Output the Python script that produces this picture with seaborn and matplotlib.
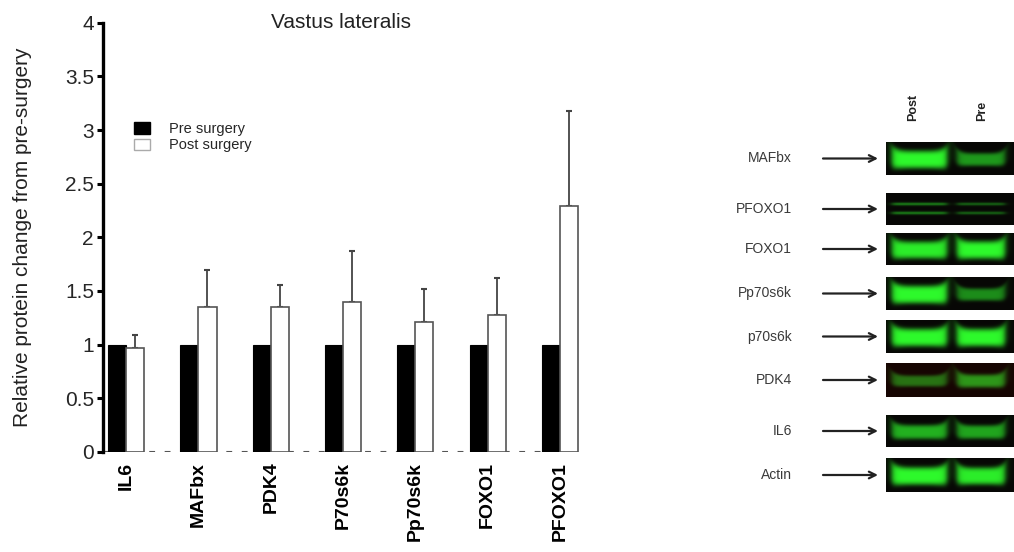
import numpy as np
import pandas as pd
import seaborn as sns
import matplotlib.pyplot as plt
from matplotlib.patches import Patch

sns.set_theme(style="white")
plt.rcParams['font.family'] = ['Liberation Sans', 'DejaVu Sans']

# bar chart data
proteins = ['IL6', 'MAFbx', 'PDK4', 'P70s6k', 'Pp70s6k', 'FOXO1', 'PFOXO1']
pre_mean = [1, 1, 1, 1, 1, 1, 1]
post_mean = [0.97, 1.35, 1.35, 1.40, 1.21, 1.28, 2.29]
post_sd = [0.12, 0.35, 0.21, 0.47, 0.31, 0.34, 0.89]
groups = ['Pre surgery', 'Post surgery']
ytick_vals = [0, 0.5, 1, 1.5, 2, 2.5, 3, 3.5, 4]
ytick_text = ['0', '0.5', '1', '1.5', '2', '2.5', '3', '3.5', '4']

# western blot panel
blot_labels = ['MAFbx', 'PFOXO1', 'FOXO1', 'Pp70s6k', 'p70s6k', 'PDK4', 'IL6', 'Actin']
lane_names = ['Post', 'Pre']
post_band = [1.0, 0.45, 0.95, 1.0, 1.0, 0.45, 0.70, 1.0]
pre_band = [0.6, 0.35, 1.0, 0.55, 1.0, 0.60, 0.65, 0.95]

df = pd.DataFrame({
    'protein': proteins * 2,
    'value': pre_mean + post_mean,
    'group': [groups[0]] * len(proteins) + [groups[1]] * len(proteins),
})

fig = plt.figure(figsize=(10.14, 5.52), dpi=100)
ax = fig.add_axes([0.1016, 0.1812, 0.470, 0.7777])

sns.barplot(data=df, x='protein', y='value', hue='group', hue_order=groups,
            palette={groups[0]: 'black', groups[1]: 'white'}, width=0.5,
            errorbar=None, legend=False, ax=ax, zorder=2)

for bar in ax.containers[0]:
    bar.set_edgecolor('black')
    bar.set_linewidth(0.8)
for bar in ax.containers[1]:
    bar.set_edgecolor('#555555')
    bar.set_linewidth(1.2)

xs = [b.get_x() + b.get_width() / 2 for b in ax.containers[1]]
ax.errorbar(xs, post_mean, yerr=[np.zeros(len(post_sd)), post_sd], fmt='none',
            ecolor='#444444', elinewidth=1.3, capsize=2.5, capthick=1.5, zorder=1.5)

ax.axhline(0, color='#555555', lw=1.5, dashes=(2.8, 4.6), zorder=0.5)

ax.set_xlim(-0.319, 6.27)
ax.set_ylim(0, 4)
ax.set_yticks(ytick_vals)
ax.set_yticklabels(ytick_text, fontsize=15)
ax.tick_params(axis='y', left=True, length=4.5, width=2.2, pad=2, color='black')
ax.tick_params(axis='x', bottom=False, length=0, pad=7)
for lbl in ax.get_xticklabels():
    lbl.set_rotation(90)
    lbl.set_fontweight('bold')
    lbl.set_fontsize(14)
    lbl.set_color('black')

for s in ['top', 'right', 'bottom']:
    ax.spines[s].set_visible(False)
ax.spines['left'].set_linewidth(2.4)
ax.spines['left'].set_color('black')

ax.set_xlabel('')
ax.set_ylabel('Relative protein change from pre-surgery', fontsize=15, color='#222222')
ax.yaxis.set_label_coords(-0.15, 0.5)
ax.text(0.5, 1.0, 'Vastus lateralis', transform=ax.transAxes, ha='center', va='center',
        fontsize=15, color='#222222')

handles = [Patch(facecolor='black', edgecolor='black'),
           Patch(facecolor='white', edgecolor='#aaaaaa')]
ax.legend(handles, groups, loc='upper left', bbox_to_anchor=(0.065, 0.768),
          frameon=False, fontsize=10.5, handlelength=1.1, handleheight=0.85,
          handletextpad=1.3, labelspacing=0.15, borderpad=0, borderaxespad=0)

# ---- blot overlay, in pixel coords ----
ov = fig.add_axes([0, 0, 1, 1])
ov.set_xlim(0, 1014)
ov.set_ylim(552, 0)
ov.axis('off')

strip_top = [142, 193, 233, 277, 320, 363, 415, 458]
strip_bot = [175, 225, 265, 310, 353, 397, 447, 492]
lanes = [(892, 947), (957, 1005)]
x0, x1, y0, y1 = 886, 1014, 135, 495
W, H = x1 - x0, y1 - y0
img = np.ones((H, W, 3))
yy, xx = np.mgrid[0:H, 0:W]
yy = yy + y0 + 0.5
xx = xx + x0 + 0.5

for i in range(len(blot_labels)):
    t, b = strip_top[i], strip_bot[i]
    rows = (yy[:, 0] >= t) & (yy[:, 0] < b)
    bg = [0.09, 0.02, 0.01] if blot_labels[i] == 'PDK4' else [0.03, 0.03, 0.02]
    img[rows, :, :] = bg
    yc = (t + b) / 2
    for j, inten in enumerate([post_band[i], pre_band[i]]):
        la, lb = lanes[j]
        xm, hw = (la + lb) / 2, (lb - la) / 2
        u = 1 / (1 + np.exp(-(xx - la) / 1.8)) / (1 + np.exp((xx - lb) / 1.8))
        rel = np.clip(np.abs(xx - xm) / hw, 0, 1.2)
        if blot_labels[i] == 'PFOXO1':
            v = (np.exp(-((yy - yc + 5) / 1.6) ** 2) + np.exp(-((yy - yc - 4) / 1.6) ** 2))
        else:
            h = 3 + 6 * inten
            cy = yc + 1 - 3 * rel ** 6
            v = np.exp(-((yy - cy) / (h * (1 + 0.3 * rel ** 4))) ** 4)
        g = np.clip(inten * u * v, 0, 1)
        mask = ((yy >= t) & (yy < b))
        g = g * mask
        img[..., 0] += g * 0.15
        img[..., 1] += g * 0.95
        img[..., 2] += g * 0.15
img = np.clip(img, 0, 1)
ov.imshow(img, extent=(x0, x1, y1, y0), aspect='auto', interpolation='bilinear', zorder=1)

for i, name in enumerate(blot_labels):
    yc = (strip_top[i] + strip_bot[i]) / 2
    ov.text(792, yc, name, ha='right', va='center', fontsize=10, color='#3a3a3a')
    ov.annotate('', xy=(878, yc), xytext=(823, yc),
                arrowprops=dict(arrowstyle='->', lw=1.6, color='#222222',
                                shrinkA=0, shrinkB=0, mutation_scale=12))

for name, xl in zip(lane_names, [913, 982]):
    ov.text(xl, 121, name, rotation=90, ha='center', va='bottom', fontsize=9,
            fontweight='bold', color='#222222')

fig.savefig('out.png', dpi=100)
